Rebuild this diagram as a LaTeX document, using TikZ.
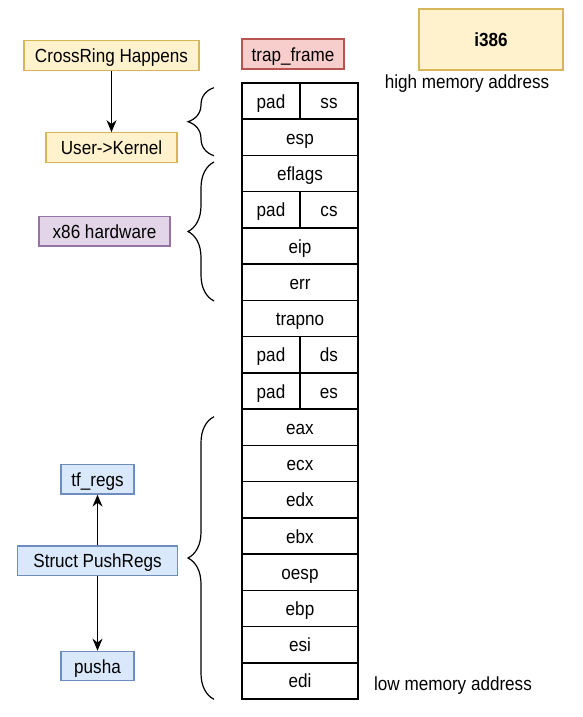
\documentclass[tikz,border=0pt]{standalone}
\usepackage{fontspec}
\setmainfont{Liberation Sans}[FakeStretch=0.9]
\usetikzlibrary{arrows.meta,decorations.pathreplacing,positioning}
\definecolor{yellowfill}{HTML}{FFF2CC}
\definecolor{yellowline}{HTML}{D6B656}
\definecolor{redfill}{HTML}{F8CECC}
\definecolor{redline}{HTML}{B85450}
\definecolor{purplefill}{HTML}{E1D5E7}
\definecolor{purpleline}{HTML}{9673A6}
\definecolor{bluefill}{HTML}{DAE8FC}
\definecolor{blueline}{HTML}{6C8EBF}
\tikzset{
  tag/.style={draw,line width=1.2pt,inner sep=0pt,minimum height=29.5pt,text height=15pt,text depth=1pt},
  yellowtag/.style={tag,fill=yellowfill,draw=yellowline},
  redtag/.style={tag,fill=redfill,draw=redline},
  purpletag/.style={tag,fill=purplefill,draw=purpleline},
  bluetag/.style={tag,fill=bluefill,draw=blueline},
  cell/.style={draw,line width=1.5pt,inner sep=0pt,minimum height=36.24pt,text height=15pt,text depth=1pt},
  flow/.style={-{Stealth[length=12pt,width=10pt]},line width=1.2pt},
  curly/.style={decorate,decoration={brace,amplitude=26pt},line width=1.2pt}
}
\begin{document}
\begin{tikzpicture}[x=1pt,y=-1pt,font=\fontsize{19}{22}\selectfont]
\useasboundingbox (0,0) rectangle (582,717);
% labels on top
\node[yellowtag,minimum width=175pt] (cross) at (111.5,55.5) {CrossRing Happens};
\node[yellowtag,minimum width=131pt] (user) at (111.5,147.5) {User->Kernel};
\node[redtag,minimum width=102pt,minimum height=30pt] (trapframe) at (293,54) {trap\_frame};
\node[yellowtag,minimum width=144pt,minimum height=61pt,font=\fontsize{19}{22}\selectfont\bfseries] (arch) at (491,39.5) {i386};
\node (high) at (467,84) {high memory address};
\node (low) at (453,686) {low memory address};
\node[purpletag,minimum width=131pt] (hw) at (104.5,231.3) {x86 hardware};
\node[bluetag,minimum width=73pt] (tfregs) at (97.5,479.3) {tf\_regs};
\node[bluetag,minimum width=160pt] (pushregs) at (97.5,560.8) {Struct PushRegs};
\node[bluetag,minimum width=73pt] (pusha) at (97.5,666) {pusha};
\draw[flow] (cross) -- (user);
\draw[flow] (pushregs) -- (tfregs);
\draw[flow] (pushregs) -- (pusha);
% the trap frame, one row per 4 bytes
\foreach \reg/\i in {esp/1,eflags/2,eip/4,err/5,trapno/6,eax/9,ecx/10,edx/11,ebx/12,oesp/13,ebp/14,esi/15,edi/16}
  \node[cell,minimum width=116pt] (\reg) at (300,{83+36.24*(\i+0.5)}) {\reg};
\foreach \seg/\i in {ss/0,cs/3,ds/7,es/8}{
  \node[cell,minimum width=58pt] (pad-\seg) at (271,{83+36.24*(\i+0.5)}) {pad};
  \node[cell,minimum width=58pt] (\seg) at (329,{83+36.24*(\i+0.5)}) {\seg};
}
% braces
\draw[curly] (214,155.7) -- (214,87.7);
\draw[curly] (214,301) -- (214,162);
\draw[curly] (214,699.3) -- (214,416.7);
\end{tikzpicture}
\end{document}
